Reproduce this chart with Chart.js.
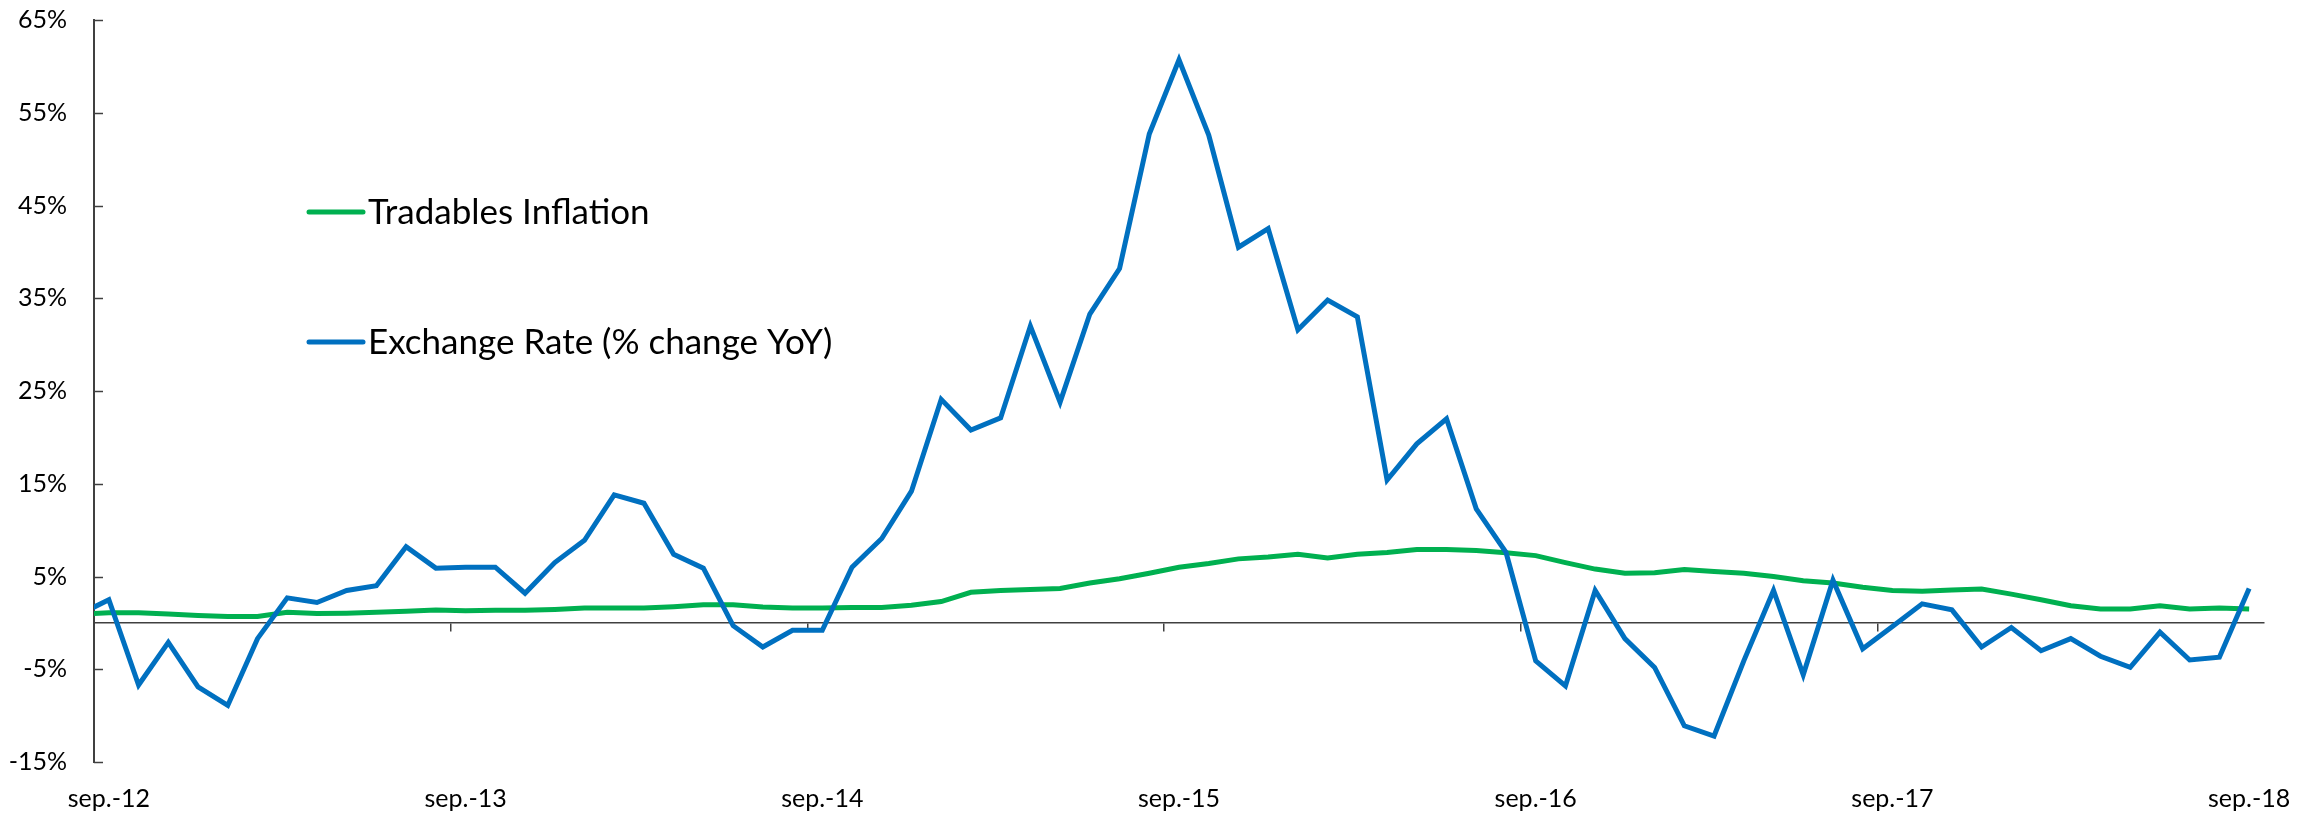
<!DOCTYPE html>
<html>
<head>
<meta charset="utf-8">
<script src="https://cdn.jsdelivr.net/npm/chart.js@4.4.1/dist/chart.umd.min.js"></script>
<style>
  html, body { margin: 0; padding: 0; background: #ffffff; }
  #wrap { width: 2315px; height: 813px; position: relative; }
</style>
</head>
<body>
<div id="wrap"><canvas id="chart"></canvas></div>
<script>
// ---- Data (monthly, Spanish month labels) ----
const months = [
  'ago.-12','sep.-12','oct.-12','nov.-12','dic.-12',
  'ene.-13','feb.-13','mar.-13','abr.-13','may.-13','jun.-13','jul.-13','ago.-13','sep.-13','oct.-13','nov.-13','dic.-13',
  'ene.-14','feb.-14','mar.-14','abr.-14','may.-14','jun.-14','jul.-14','ago.-14','sep.-14','oct.-14','nov.-14','dic.-14',
  'ene.-15','feb.-15','mar.-15','abr.-15','may.-15','jun.-15','jul.-15','ago.-15','sep.-15','oct.-15','nov.-15','dic.-15',
  'ene.-16','feb.-16','mar.-16','abr.-16','may.-16','jun.-16','jul.-16','ago.-16','sep.-16','oct.-16','nov.-16','dic.-16',
  'ene.-17','feb.-17','mar.-17','abr.-17','may.-17','jun.-17','jul.-17','ago.-17','sep.-17','oct.-17','nov.-17','dic.-17',
  'ene.-18','feb.-18','mar.-18','abr.-18','may.-18','jun.-18','jul.-18','ago.-18','sep.-18'
];

const tradablesInflation = [
  0.9, 1.1, 1.1, 0.97, 0.8,
  0.7, 0.7, 1.15, 1.0, 1.05, 1.15, 1.25, 1.4, 1.3, 1.35, 1.35, 1.45,
  1.6, 1.6, 1.6, 1.75, 1.95, 1.95, 1.7, 1.6, 1.6, 1.65, 1.65, 1.9,
  2.3, 3.3, 3.5, 3.6, 3.7, 4.3, 4.75, 5.35, 6.0, 6.4, 6.9, 7.1,
  7.4, 7.0, 7.4, 7.6, 7.9, 7.9, 7.8, 7.55, 7.25, 6.5, 5.8, 5.35,
  5.4, 5.75, 5.55, 5.35, 5.0, 4.55, 4.3, 3.85, 3.5, 3.4, 3.55, 3.65,
  3.1, 2.5, 1.85, 1.5, 1.5, 1.85, 1.5, 1.6, 1.5
];

const exchangeRate = [
  0.9, 2.5, -6.7, -2.1, -6.9,
  -8.9, -1.7, 2.7, 2.2, 3.5, 4.0, 8.2, 5.9, 6.0, 6.0, 3.2, 6.5,
  8.9, 13.8, 12.9, 7.4, 5.9, -0.3, -2.6, -0.8, -0.8, 6.0, 9.1, 14.2,
  24.1, 20.8, 22.1, 32.0, 23.8, 33.3, 38.2, 52.7, 60.7, 52.6, 40.5, 42.5,
  31.6, 34.8, 33.0, 15.4, 19.3, 22.0, 12.3, 7.6, -4.1, -6.8, 3.5, -1.7,
  -4.8, -11.1, -12.2, -4.1, 3.5, -5.6, 4.6, -2.8, -0.4, 2.05, 1.4, -2.6,
  -0.5, -3.0, -1.7, -3.6, -4.8, -1.0, -4.0, -3.7, 3.7
];

const xTickLabels = ['sep.-12','sep.-13','sep.-14','sep.-15','sep.-16','sep.-17','sep.-18'];
const yTickValues = [-15, -5, 5, 15, 25, 35, 45, 55, 65];

const seriesNames = ['Tradables Inflation', 'Exchange Rate (% change YoY)'];
const seriesColors = ['#00B050', '#0070C0'];

// ---- Derived helpers ----
const FONT = 'Lato, "Noto Sans", sans-serif';
const AXIS_COLOR = '#404040';
const firstShown = months.indexOf(xTickLabels[0]);
const lastShown = months.indexOf(xTickLabels[xTickLabels.length - 1]);
const labelPositions = xTickLabels.map(l => months.indexOf(l));
const tickMarkPositions = labelPositions.slice(0, -1).map(p => p - 0.5);
const toPoints = arr => arr.map((v, i) => ({ x: i, y: v }));

const decorPlugin = {
  id: 'decor',
  beforeDatasetsDraw(chart) {
    const { ctx, chartArea: ca, scales: { y } } = chart;
    ctx.save();
    ctx.strokeStyle = AXIS_COLOR;
    ctx.lineWidth = 1.5;
    y.ticks.forEach(t => {
      const py = Math.round(y.getPixelForValue(t.value)) + 0.5;
      ctx.beginPath();
      ctx.moveTo(ca.left, py);
      ctx.lineTo(ca.left + 9, py);
      ctx.stroke();
    });
    ctx.restore();
  },
  afterDraw(chart) {
    const { ctx, chartArea: ca } = chart;
    ctx.save();
    ctx.font = '35px ' + FONT;
    ctx.textBaseline = 'middle';
    ctx.textAlign = 'left';
    chart.data.datasets.forEach((ds, i) => {
      const y = ca.top + 192 + i * 130;
      const x0 = ca.left + 215;
      ctx.strokeStyle = ds.borderColor;
      ctx.lineWidth = 5;
      ctx.lineCap = 'round';
      ctx.beginPath();
      ctx.moveTo(x0, y);
      ctx.lineTo(x0 + 54, y);
      ctx.stroke();
      ctx.fillStyle = '#000000';
      ctx.fillText(ds.label, x0 + 59, y + 1);
    });
    ctx.restore();
  }
};

new Chart(document.getElementById('chart'), {
  type: 'line',
  data: {
    datasets: [
      {
        label: seriesNames[0],
        data: toPoints(tradablesInflation),
        borderColor: seriesColors[0],
        backgroundColor: seriesColors[0],
        borderWidth: 5,
        pointRadius: 0,
        tension: 0,
        clip: 0,
        order: 1,
        xAxisID: 'x', yAxisID: 'y'
      },
      {
        label: seriesNames[1],
        data: toPoints(exchangeRate),
        borderColor: seriesColors[1],
        backgroundColor: seriesColors[1],
        borderWidth: 5,
        pointRadius: 0,
        tension: 0,
        clip: 0,
        order: 0,
        xAxisID: 'x', yAxisID: 'y'
      }
    ]
  },
  options: {
    responsive: true,
    maintainAspectRatio: false,
    animation: false,
    layout: { padding: { top: 20, right: 51, left: 0, bottom: 0 } },
    plugins: { legend: { display: false }, tooltip: { enabled: false } },
    scales: {
      y: {
        type: 'linear',
        position: 'left',
        min: -15, max: 65,
        afterBuildTicks: s => { s.ticks = yTickValues.map(v => ({ value: v })); },
        afterFit: s => { s.width = 94; s.paddingTop = 0; s.paddingBottom = 0; },
        ticks: {
          callback: v => v + '%',
          padding: 27,
          color: '#000000',
          font: { family: FONT, size: 25 }
        },
        grid: { display: false, drawTicks: false },
        border: { display: true, color: AXIS_COLOR, width: 2 }
      },
      x: {
        type: 'linear',
        position: { y: 0 },
        min: firstShown - 0.5, max: lastShown + 0.5,
        afterBuildTicks: s => { s.ticks = tickMarkPositions.map(v => ({ value: v })); },
        afterFit: s => { s.height = 0; },
        ticks: { display: false },
        grid: { display: true, drawOnChartArea: false, drawTicks: true, tickLength: 8, color: AXIS_COLOR, lineWidth: 1.5 },
        border: { display: true, color: AXIS_COLOR, width: 1.5 }
      },
      xLabels: {
        type: 'linear',
        axis: 'x',
        position: 'bottom',
        min: firstShown - 0.5, max: lastShown + 0.5,
        afterBuildTicks: s => { s.ticks = labelPositions.map(v => ({ value: v })); },
        afterFit: s => { s.height = 51; },
        ticks: {
          autoSkip: false,
          maxRotation: 0,
          minRotation: 0,
          padding: 22,
          color: '#000000',
          font: { family: FONT, size: 25 },
          callback: v => months[Math.round(v)]
        },
        grid: { display: false, drawTicks: false },
        border: { display: false }
      }
    }
  },
  plugins: [decorPlugin]
});
</script>
</body>
</html>
